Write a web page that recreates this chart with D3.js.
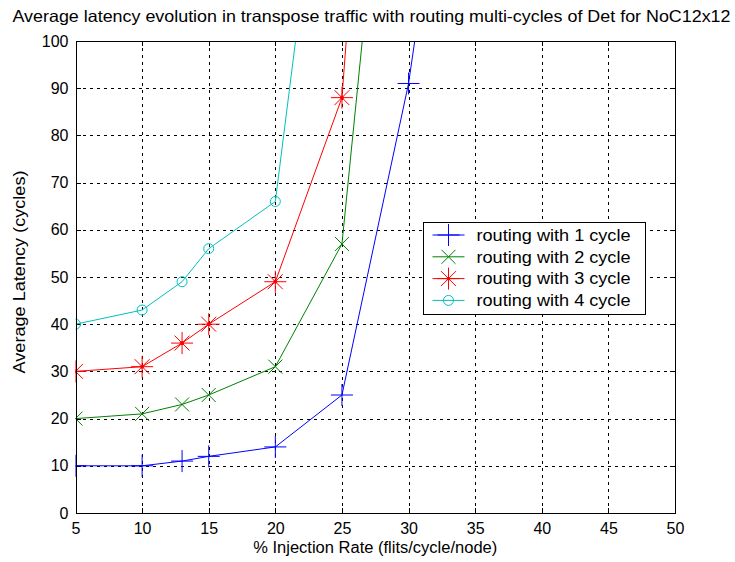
<!DOCTYPE html>
<html>
<head>
<meta charset="utf-8">
<script src="https://cdn.jsdelivr.net/npm/d3@7"></script>
<style>
  html, body { margin: 0; padding: 0; background: #fff; }
  svg { display: block; }
  text { font-family: "Liberation Sans", Arial, sans-serif; fill: #000; }
</style>
</head>
<body>
<svg id="chart" width="735" height="562"></svg>
<script>
// Injection rates (%) sampled for every routing configuration
const injectionRates = [5, 10, 13, 15, 20, 25, 30, 35];

// Average latency (cycles) per routing configuration
const latency1Cycle = [10, 10, 11, 12, 14, 25, 91, 188];
const latency2Cycle = [20, 21, 23, 25, 31, 57, 198];
const latency3Cycle = [30, 31, 36, 40, 49, 88, 275];
const latency4Cycle = [40, 43, 49, 56, 66, 178];

const seriesNames = ["routing with 1 cycle", "routing with 2 cycle", "routing with 3 cycle", "routing with 4 cycle"];
const seriesColors = ["#0000ff", "#008000", "#ff0000", "#00bfbf"];
const seriesMarkers = ["plus", "cross", "star", "circle"];

const xTicks = [5, 10, 15, 20, 25, 30, 35, 40, 45, 50];
const yTicks = [0, 10, 20, 30, 40, 50, 60, 70, 80, 90, 100];

const titleText = "Average latency evolution in transpose traffic with routing multi-cycles of Det for NoC12x12";
const xLabel = "% Injection Rate (flits/cycle/node)";
const yLabel = "Average Latency (cycles)";

const series = [latency1Cycle, latency2Cycle, latency3Cycle, latency4Cycle].map((vals, i) => ({
  name: seriesNames[i],
  color: seriesColors[i],
  marker: seriesMarkers[i],
  points: vals.map((v, j) => ({ x: injectionRates[j], y: v }))
}));

const svg = d3.select("#chart");
const margin = { left: 75.5, right: 60, top: 41, bottom: 49 };
const W = 735, H = 562;
const x = d3.scaleLinear().domain([5, 50]).range([margin.left, W - margin.right]);
const y = d3.scaleLinear().domain([0, 100]).range([H - margin.bottom, margin.top]);

svg.append("rect").attr("width", W).attr("height", H).attr("fill", "#fff");

svg.append("defs").append("clipPath").attr("id", "plotClip")
  .append("rect")
  .attr("x", x(5)).attr("y", y(100))
  .attr("width", x(50) - x(5)).attr("height", y(0) - y(100));

// Dashed grid
const grid = svg.append("g").attr("stroke", "#000").attr("stroke-width", 1).attr("stroke-dasharray", "3,4").attr("shape-rendering", "crispEdges");
grid.selectAll("line.vx").data(xTicks.slice(1, -1)).join("line")
  .attr("x1", d => Math.round(x(d)) + 0.5).attr("x2", d => Math.round(x(d)) + 0.5)
  .attr("y1", y(100)).attr("y2", y(0));
grid.selectAll("line.hy").data(yTicks.slice(1, -1)).join("line")
  .attr("x1", x(5)).attr("x2", x(50))
  .attr("y1", d => Math.round(y(d)) + 0.5).attr("y2", d => Math.round(y(d)) + 0.5);

// Axes with labels only; the frame is drawn separately
const xAxis = d3.axisBottom(x).tickValues(xTicks).tickSize(0).tickPadding(10).tickFormat(d3.format("d"));
const yAxis = d3.axisLeft(y).tickValues(yTicks).tickSize(0).tickPadding(7).tickFormat(d3.format("d"));
const gx = svg.append("g").attr("transform", `translate(0,${y(0)})`).call(xAxis);
const gy = svg.append("g").attr("transform", `translate(${x(5)},0)`).call(yAxis);
[gx, gy].forEach(g => {
  g.select(".domain").remove();
  g.selectAll("text").attr("font-size", 16).attr("font-family", "'Liberation Sans', Arial, sans-serif").attr("fill", "#000");
});

// Small inward tick marks on all four sides
const tk = svg.append("g").attr("stroke", "#000").attr("shape-rendering", "crispEdges");
xTicks.forEach(t => {
  const px = Math.round(x(t)) + 0.5;
  tk.append("line").attr("x1", px).attr("x2", px).attr("y1", y(0)).attr("y2", y(0) - 5);
  tk.append("line").attr("x1", px).attr("x2", px).attr("y1", y(100)).attr("y2", y(100) + 5);
});
yTicks.forEach(t => {
  const py = Math.round(y(t)) + 0.5;
  tk.append("line").attr("x1", x(5)).attr("x2", x(5) + 5).attr("y1", py).attr("y2", py);
  tk.append("line").attr("x1", x(50)).attr("x2", x(50) - 5).attr("y1", py).attr("y2", py);
});

// Series lines
const line = d3.line().x(d => x(d.x)).y(d => y(d.y));
const plot = svg.append("g").attr("clip-path", "url(#plotClip)");
series.forEach(s => {
  plot.append("path").datum(s.points)
    .attr("d", line).attr("fill", "none").attr("stroke", s.color).attr("stroke-width", 1);
});

function drawMarker(g, type, cx, cy, color) {
  const m = g.append("g").attr("transform", `translate(${cx},${cy})`)
    .attr("stroke", color).attr("fill", "none").attr("stroke-width", 1);
  if (type === "plus") {
    m.append("line").attr("x1", -11).attr("x2", 11).attr("y1", 0).attr("y2", 0);
    m.append("line").attr("x1", 0).attr("x2", 0).attr("y1", -11).attr("y2", 11);
  } else if (type === "cross") {
    m.append("line").attr("x1", -7).attr("x2", 7).attr("y1", -7).attr("y2", 7);
    m.append("line").attr("x1", -7).attr("x2", 7).attr("y1", 7).attr("y2", -7);
  } else if (type === "star") {
    m.append("line").attr("x1", -11).attr("x2", 11).attr("y1", 0).attr("y2", 0);
    m.append("line").attr("x1", 0).attr("x2", 0).attr("y1", -11).attr("y2", 11);
    m.append("line").attr("x1", -7.5).attr("x2", 7.5).attr("y1", -7.5).attr("y2", 7.5);
    m.append("line").attr("x1", -7.5).attr("x2", 7.5).attr("y1", 7.5).attr("y2", -7.5);
    m.append("circle").attr("r", 1.5).attr("fill", color);
  } else if (type === "circle") {
    m.append("circle").attr("r", 5);
  }
}

series.forEach(s => {
  const mg = plot.append("g");
  s.points.forEach(p => drawMarker(mg, s.marker, x(p.x), y(p.y), s.color));
});

// Frame
svg.append("rect")
  .attr("x", Math.round(x(5)) + 0.5).attr("y", Math.round(y(100)) + 0.5)
  .attr("width", Math.round(x(50)) - Math.round(x(5))).attr("height", Math.round(y(0)) - Math.round(y(100)))
  .attr("fill", "none").attr("stroke", "#000").attr("stroke-width", 1).attr("shape-rendering", "crispEdges");

// Legend
const lg = svg.append("g").attr("transform", "translate(423.5,222.5)");
lg.append("rect").attr("width", 222).attr("height", 92).attr("fill", "#fff").attr("stroke", "#000").attr("shape-rendering", "crispEdges");
series.forEach((s, i) => {
  const ly = 12.5 + i * 21.8;
  lg.append("line").attr("x1", 9).attr("x2", 41).attr("y1", ly).attr("y2", ly).attr("stroke", s.color);
  drawMarker(lg, s.marker, 25, ly, s.color);
  lg.append("text").attr("x", 53).attr("y", ly).attr("dy", "0.36em")
    .attr("font-size", 16).attr("textLength", 154).attr("lengthAdjust", "spacingAndGlyphs").text(s.name);
});

// Titles
svg.append("text").attr("x", 371.5).attr("y", 22)
  .attr("text-anchor", "middle").attr("font-size", 16.5)
  .attr("textLength", 718).attr("lengthAdjust", "spacingAndGlyphs").text(titleText);
svg.append("text").attr("x", (x(5) + x(50)) / 2).attr("y", 553)
  .attr("text-anchor", "middle").attr("font-size", 16)
  .attr("textLength", 244).attr("lengthAdjust", "spacingAndGlyphs").text(xLabel);
svg.append("text").attr("transform", `translate(25,272) rotate(-90)`)
  .attr("text-anchor", "middle").attr("font-size", 16)
  .attr("textLength", 203).attr("lengthAdjust", "spacingAndGlyphs").text(yLabel);
</script>
</body>
</html>
